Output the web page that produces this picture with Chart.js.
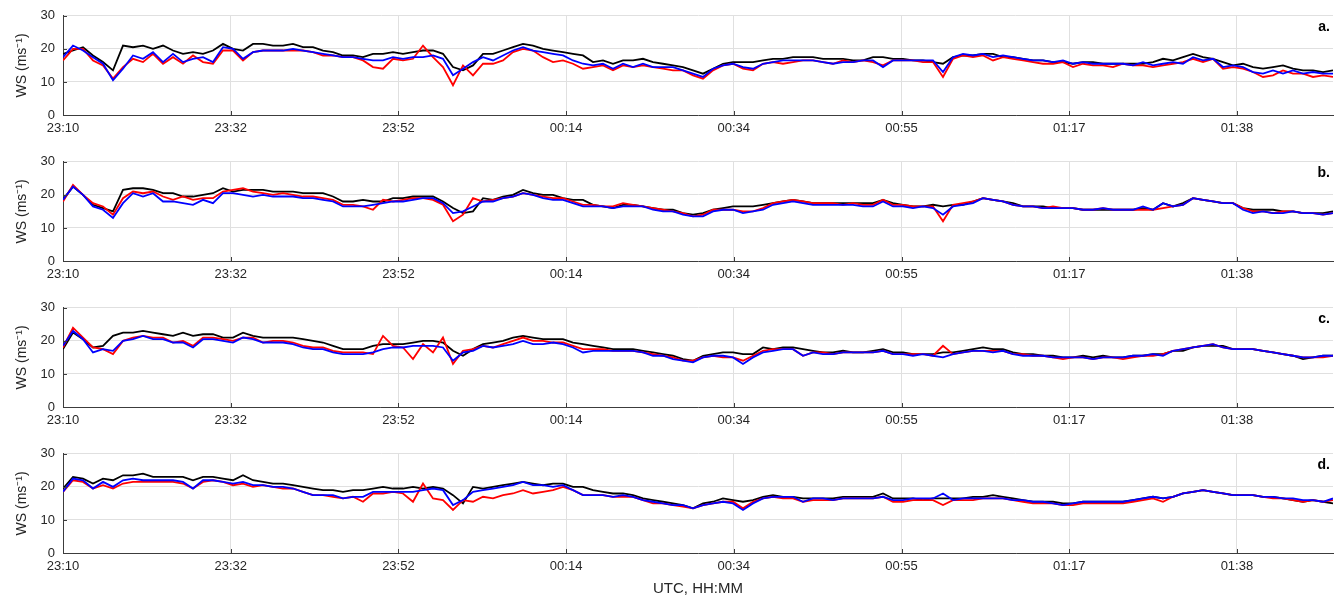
<!DOCTYPE html>
<html>
<head>
<meta charset="utf-8">
<script src="https://cdn.jsdelivr.net/npm/chart.js@4.4.1/dist/chart.umd.min.js"></script>
<style>
  body { margin: 0; background: #fff; width: 1342px; height: 602px; position: relative; overflow: hidden; }
  canvas { position: absolute; left: 0; }
</style>
</head>
<body>
<canvas id="pa" width="1342" height="146" style="top:0px"></canvas>
<canvas id="pb" width="1342" height="146" style="top:146px"></canvas>
<canvas id="pc" width="1342" height="146" style="top:292px"></canvas>
<canvas id="pd" width="1342" height="164" style="top:438px"></canvas>
<script>
const tickLabels = ["23:10", "23:32", "23:52", "00:14", "00:34", "00:55", "01:17", "01:38"]
const tickPos = [0, 16.77, 33.54, 50.31, 67.08, 83.85, 100.62, 117.39]

const aBlack = [18.5,19.5,20.5,18,16,13.5,21,20.5,21,20,21,19.5,18.5,19,18.5,19.5,21.5,20,19.5,21.5,21.5,21,21,21.5,20.5,20.5,19.5,19,18,18,17.5,18.5,18.5,19,18.5,19,19.5,19.5,18.5,14.5,13.5,15,18.5,
  18.5,19.5,20.5,21.5,21,20,19.5,19,18.5,18,16,16.5,15.5,16.5,16.5,17,16,15.5,15,14.5,13.5,12.5,14,15.5,16,16,16,16.5,17,17,17.5,17.5,17.5,17,17,17,16.5,16.5,17.5,17.5,17,17,
  16.5,16.5,16,15.5,17.5,18,18,18.5,18.5,17.5,17.5,17,16.5,16.5,16,16,15.5,16,16,15.5,15.5,15.5,15.5,15.5,16,17,16.5,17.5,18.5,17.5,17,16,15,15.5,14.5,14,14.5,15,14,13.5,13.5,13,13.5]
const aRed = [16.5,20,20,16.5,15,11,14.5,17,16,18.5,15.5,17.5,15.5,18,16,15.5,19.5,19.5,16.5,19,19.5,19.5,19.5,19.5,19.5,19,18,18,17.5,17.5,16.5,14.5,14,17,16.5,17,21,17.5,14.5,9,15,12,15.5,
  15.5,16.5,19,20,19.5,17.5,16,16.5,15.5,14,14.5,15,13.5,15,14.5,15,14.5,14,13.5,13.5,12,11,13.5,15,15.5,14,13.5,15.5,16,15.5,16,16.5,16.5,16,15.5,16.5,16,16.5,16,15,16.5,16.5,
  16.5,16,16,11.5,17,18,17.5,18,16.5,17.5,17,16.5,16,15.5,15.5,16,14.5,15.5,15,15,14.5,15.5,15,15,14.5,15,15.5,16,17,16,17,14,14.5,14,13,11.5,12,13.5,12.5,12.5,11.5,12,11.5]
const aBlue = [17.5,21,19.5,17.5,15.5,10.5,14,18,17,19,16,18.5,16,17,17.5,16,20.5,20,17,19,19.5,19.5,19.5,20,19.5,19,18.5,18,17.5,17.5,17,16.5,16.5,17.5,17,17.5,17.5,18,17,12,14,16,17.5,
  16.5,18,19.5,20.5,19.5,19,18.5,18,16.5,15.5,15,15.5,14,15.5,14.5,15.5,14.5,14.5,14.5,13.5,12.5,11.5,14,15,15.5,14.5,14,15.5,16,16.5,16.5,16.5,16.5,16,15.5,16,16,16.5,16.5,14.5,16.5,16.5,
  16.5,16.5,16.5,13,17.5,18.5,18,18.5,17.5,18,17.5,17,16.5,16.5,16,16.5,15.5,16,15.5,15.5,15.5,15.5,15,16,15,15.5,16,15.5,17.5,16.5,17,14.5,15,14.5,13,12.5,13.5,12.5,13.5,12.5,13,12.5,12.5]

const bBlack = [18.5,22.5,20,17,16,15,21.5,22,22,21.5,20.5,20.5,19.5,19.5,20,20.5,22,21,21.5,21.5,21.5,21,21,21,20.5,20.5,20.5,19.5,18,18,18.5,18,18,19,19,19.5,19.5,19.5,18,16,14.5,15,19,
  18.5,19.5,20,21.5,20.5,20,20,19,18.5,18.5,17,16.5,16,17,17,16.5,16,15.5,15.5,14.5,14,14.5,15.5,16,16.5,16.5,16.5,17,17.5,18,18.5,18,17.5,17.5,17.5,17.5,17.5,17.5,17.5,18.5,17.5,17,
  16.5,16.5,17,16.5,17,17,18,19,18.5,18,17.5,16.5,16.5,16.5,16,16,16,15.5,15.5,15.5,15.5,15.5,15.5,16,15.5,17.5,16.5,17.5,19,18.5,18,17.5,17.5,16,15.5,15.5,15.5,15,15,14.5,14.5,14.5,15]
const bRed = [18,23,20,17.5,16.5,14,19,21,20.5,21,19.5,18.5,19.5,18.5,19,19,21,21.5,22,21,20.5,20,20.5,20,19.5,19.5,19,18.5,17,17,16.5,15.5,18.5,18,18.5,19,19,18.5,17,12,14,19,18,
  18.5,19,19.5,20.5,20,19.5,19,19,18,17,17,16.5,16.5,17.5,17,16.5,16,15.5,15,14.5,13.5,14,15.5,15.5,15.5,15,15,16,17.5,18,18.5,18,17.5,17.5,17.5,17,17.5,17,17,18.5,17,17,
  16.5,16.5,16.5,12,17,17.5,18,19,18.5,18,17,16.5,16.5,16,16.5,16,16,15.5,15.5,16,15.5,15.5,15.5,15.5,15.5,16,16.5,17,19,18.5,18,17.5,17.5,16,15,15,14.5,15,15,14.5,14.5,14,14.5]
const bBlue = [18.5,22.5,20,16.5,15.5,13,17.5,20.5,19.5,20.5,18,18,17.5,17,18.5,17.5,20.5,20.5,20,19.5,20,19.5,19.5,19.5,19,19,18.5,18,16.5,16.5,16.5,17,17.5,18,18,18.5,19,19,17.5,14.5,15,16.5,18,
  18,19,19.5,20.5,20,19,18.5,18.5,17.5,16.5,16.5,16.5,16,16.5,16.5,16.5,15.5,15,15,14,13.5,13.5,15,15.5,15.5,14.5,15,15.5,17,17.5,18,17.5,17,17,17,17,17,16.5,16.5,18,16.5,16.5,
  16,16.5,16,14,16.5,17,17.5,19,18.5,18,17,16.5,16.5,16,16,16,16,15.5,15.5,16,15.5,15.5,15.5,16.5,15.5,17.5,16.5,17,19,18.5,18,17.5,17.5,15.5,14.5,15,14.5,14.5,15,14.5,14.5,14,14.5]

const cBlack = [17.5,22.5,20.5,18,18.5,21.5,22.5,22.5,23,22.5,22,21.5,22.5,21.5,22,22,21,21,22.5,21.5,21,21,21,21,20.5,20,19.5,18.5,17.5,17.5,17.5,18.5,19,19,19,19.5,20,20,19.5,17,15.5,17.5,19,
  19.5,20,21,21.5,21,20.5,20.5,20.5,19.5,19,18.5,18,17.5,17.5,17.5,17,16.5,16,15.5,14.5,14,15.5,16,16.5,16.5,16,16,18,17.5,18,18,17.5,17,16.5,16.5,17,16.5,16.5,17,17.5,16.5,16.5,
  16,16,16,16.5,16.5,17,17.5,18,17.5,17.5,16.5,16,16,15.5,15.5,15,15,15.5,15,15.5,15,15,15.5,15.5,16,16,17,17,18,18.5,18.5,18.5,17.5,17.5,17.5,17,16.5,16,15.5,14.5,15,15.5,15.5]
const cRed = [18,24,21,18,17.5,16,20,21,21.5,21,21,19.5,20,18.5,21,21,20.5,20,21,21,19.5,20,20,19.5,18.5,18,18,17,16.5,16.5,16.5,16,21.5,18.5,18,14.5,19,16.5,21,13,17,17.5,18.5,
  18,19,20,21,20,20,19.5,19.5,18.5,17.5,17.5,17.5,17,17,17,16.5,16,15.5,15,14,14,15,15.5,15,15,14,15.5,17,17.5,17.5,17.5,15.5,16.5,16.5,16,16.5,16.5,16.5,16.5,17,16,16,
  16,16,15.5,18.5,16,16.5,17,17,17,17,16,16,15.5,15.5,15,14.5,15,15,14.5,15,15,14.5,15,15.5,15.5,16,17,17.5,18,18.5,19,18,17.5,17.5,17.5,17,16.5,16,15.5,15,15,15,15.5]
const cBlue = [18.5,23,20.5,16.5,17.5,17,20,20.5,21.5,20.5,20.5,19.5,19.5,18,20.5,20.5,20,19.5,21,20.5,19.5,19.5,19.5,19,18,17.5,17.5,16.5,16,16,16,16.5,17.5,18,18,18.5,18.5,18.5,18,14,16.5,17,18.5,
  18,18.5,19,20,19,19,19.5,19,18,16.5,17,17,17,17,17,16.5,15.5,15.5,14.5,14,13.5,15,15.5,15.5,15,13,15,16.5,17,17.5,17.5,15.5,16.5,16,16,16.5,16.5,16.5,16.5,17,16,16,
  15.5,16,15.5,15,16,16.5,17,17,16.5,17,16,15.5,15.5,15.5,15,15,15,15,14.5,15,15,15,15.5,15.5,16,15.5,17,17.5,18,18.5,19,18,17.5,17.5,17.5,17,16.5,16,15.5,15,15,15.5,15.5]

const dBlack = [19.5,23,22.5,21,22.5,22,23.5,23.5,24,23,23,23,23,22,23,23,22.5,22,23.5,22,21.5,21,21,20.5,20,19.5,19,19,18.5,19,19,19.5,20,19.5,19.5,20,19.5,20,19.5,17.5,15,20,19.5,
  20,20.5,21,21.5,21,20.5,21,21,20,20,19,18.5,18,18,17.5,16.5,16,15.5,15,14.5,13.5,15,15.5,16.5,16,15.5,16,17,17.5,17,17,16.5,16.5,16.5,16.5,17,17,17,17,18,16.5,16.5,
  16.5,16,16.5,16.5,16.5,16.5,17,17,17.5,17,16.5,16,15.5,15.5,15.5,15,15,15.5,15.5,15.5,15.5,15.5,16,16.5,17,16.5,17,18,18.5,19,18.5,18,17.5,17.5,17.5,17,17,16.5,16,15.5,16,15.5,15]
const dRed = [18.5,22,21.5,19.5,20.5,19.5,21,21.5,21.5,21.5,21.5,21.5,21,19.5,21.5,22,21.5,20.5,21,20,20.5,20,19.5,19.5,18.5,17.5,17.5,17,16.5,17,15.5,18,18,18.5,18,15.5,21,16.5,16,13,16,15.5,17,
  16.5,17.5,18,19,18,18.5,19,20,19,17.5,17.5,17.5,17,17,17,16,15,15,14.5,14,13.5,14.5,15,15.5,15.5,13.5,15.5,16.5,17,16.5,16.5,15.5,16,16,16,16.5,16.5,16.5,16.5,17,15.5,15.5,
  16,16,16,14.5,16,16,16,16.5,16.5,16.5,16,15.5,15,15,15,14.5,14.5,15,15,15,15,15,15.5,16,16.5,15.5,17,18,18.5,19,18.5,18,17.5,17.5,17.5,17,16.5,16.5,16,15.5,16,15.5,16]
const dBlue = [18.5,22.5,22,19.5,21.5,20,22,22.5,22,22,22,22,21.5,19.5,22,22,21.5,21,21.5,20.5,20.5,20,20,19.5,18.5,17.5,17.5,17.5,16.5,17,17,18.5,18.5,18.5,18.5,18.5,19,19.5,19,14.5,16,18.5,19,
  19.5,20,20.5,21.5,20.5,20.5,20,20.5,19,17.5,17.5,17.5,17,17.5,17,16,15.5,15,14.5,14.5,13.5,14.5,15,15.5,15,13,15,16.5,17,17,17,15.5,16.5,16.5,16,16.5,16.5,16.5,16.5,17,16,16,
  16.5,16.5,16.5,18,16,16.5,16.5,16.5,16.5,16.5,16,16,15.5,15.5,15,14.5,15,15.5,15.5,15.5,15.5,15.5,16,16.5,17,16.5,17,18,18.5,19,18.5,18,17.5,17.5,17.5,17,17,16.5,16.5,16,16,15.5,16.5]

const panels = [
  { id: "pa", tag: "a.", black: aBlack, red: aRed, blue: aBlue },
  { id: "pb", tag: "b.", black: bBlack, red: bRed, blue: bBlue },
  { id: "pc", tag: "c.", black: cBlack, red: cRed, blue: cBlue },
  { id: "pd", tag: "d.", black: dBlack, red: dRed, blue: dBlue, last: true }
]

const axisColor = "#3c3c3c"
const gridColor = "#e0e0e0"
const fontFamily = '"Liberation Sans", Arial, Helvetica, sans-serif'

const panelDecor = {
  id: "panelDecor",
  afterDraw(chart, args, opts) {
    const { ctx, chartArea: a, scales: { x, y } } = chart
    ctx.save()
    ctx.strokeStyle = axisColor
    ctx.lineWidth = 1
    x.ticks.forEach(t => {
      const px = Math.round(x.getPixelForValue(t.value)) + 0.5
      ctx.beginPath(); ctx.moveTo(px, a.bottom); ctx.lineTo(px, a.bottom - 4); ctx.stroke()
    })
    y.ticks.forEach(t => {
      const py = Math.round(y.getPixelForValue(t.value)) + 0.5
      ctx.beginPath(); ctx.moveTo(a.left, py); ctx.lineTo(a.left + 4, py); ctx.stroke()
    })
    ctx.fillStyle = "#000"
    ctx.font = "bold 14px " + fontFamily
    ctx.textAlign = "right"
    ctx.textBaseline = "top"
    ctx.fillText(opts.tag, a.right - 3, a.top + 4)
    ctx.restore()
  }
}

const series = (vals, color, order) => ({
  data: vals.map((v, i) => ({ x: i, y: v })),
  borderColor: color,
  borderWidth: 1.8,
  pointRadius: 0,
  tension: 0,
  fill: false,
  order
})

panels.forEach(p => {
  const xh = p.last ? 49 : 31
  new Chart(document.getElementById(p.id), {
    type: "line",
    data: {
      datasets: [
        series(p.black, "#000000", 2),
        series(p.red, "#ff0000", 1),
        series(p.blue, "#0000ff", 0)
      ]
    },
    options: {
      responsive: false,
      animation: false,
      events: [],
      layout: { padding: { top: 12, right: 9, left: 0, bottom: 0 } },
      plugins: {
        legend: { display: false },
        tooltip: { enabled: false },
        panelDecor: { tag: p.tag }
      },
      scales: {
        x: {
          type: "linear",
          min: 0,
          max: 127,
          afterBuildTicks: s => { s.ticks = tickPos.map(v => ({ value: v })) },
          afterFit: s => { s.height = xh },
          ticks: {
            callback: (v, i) => tickLabels[i],
            autoSkip: false,
            maxRotation: 0,
            padding: 6,
            color: "#262626",
            font: { family: fontFamily, size: 13 }
          },
          grid: { color: gridColor, drawTicks: false },
          border: { display: true, color: axisColor },
          title: {
            display: !!p.last,
            text: "UTC, HH:MM",
            color: "#262626",
            font: { family: fontFamily, size: 15 },
            padding: { top: 4, bottom: 4 }
          }
        },
        y: {
          min: 0,
          max: 30,
          afterFit: s => { s.width = 63 },
          ticks: {
            stepSize: 10,
            padding: 8,
            color: "#262626",
            font: { family: fontFamily, size: 13 }
          },
          grid: { color: gridColor, drawTicks: false },
          border: { display: true, color: axisColor },
          title: {
            display: true,
            text: "WS (ms⁻¹)",
            color: "#262626",
            font: { family: fontFamily, size: 14 },
            padding: { top: 14, bottom: 0 }
          }
        }
      }
    },
    plugins: [panelDecor]
  })
})
</script>
</body>
</html>
